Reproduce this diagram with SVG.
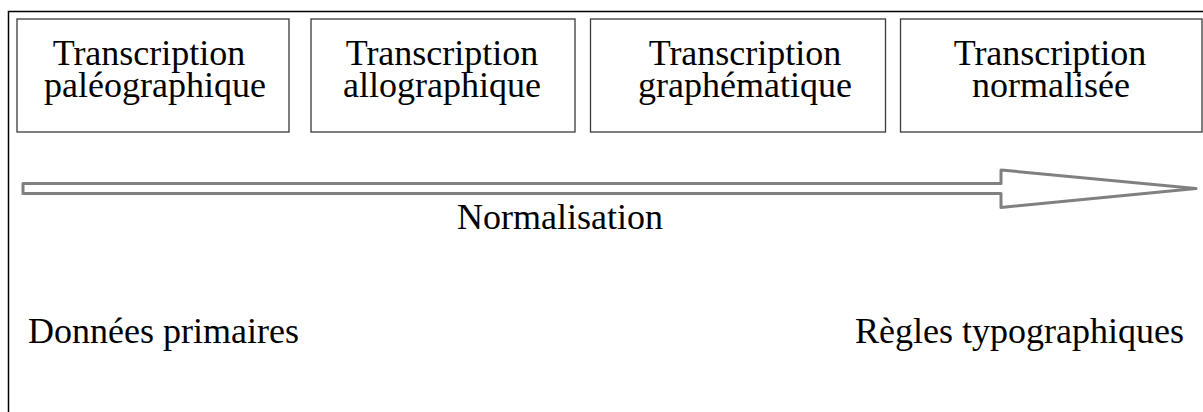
<svg xmlns="http://www.w3.org/2000/svg" width="1203" height="412" viewBox="0 0 1203 412">
<style>
.frame{fill:none;stroke:#000;stroke-width:1.5}
.box{fill:#fff;stroke:#3a3a3a;stroke-width:1.3}
.t{font-family:"Liberation Serif","Times New Roman",serif;font-size:36px;fill:#000}
.m{text-anchor:middle}
.arrow{fill:#fff;stroke:#808080;stroke-width:3;stroke-linejoin:round}
</style>
<rect width="1203" height="412" fill="#fff"/>
<path class="frame" d="M8.5,420 V11.5 H1210"/>
<g id="node-paleographique">
<rect class="box" x="17" y="19" width="272" height="113"/>
<text class="t m" x="149" y="65">Transcription</text>
<text class="t m" x="155" y="97">paléographique</text>
</g>
<g id="node-allographique">
<rect class="box" x="311" y="19" width="264" height="113"/>
<text class="t m" x="442" y="65">Transcription</text>
<text class="t m" x="442" y="97">allographique</text>
</g>
<g id="node-graphematique">
<rect class="box" x="590.5" y="19" width="295" height="113"/>
<text class="t m" x="745" y="65">Transcription</text>
<text class="t m" x="745" y="97">graphématique</text>
</g>
<g id="node-normalisee">
<rect class="box" x="900.5" y="19" width="301.5" height="113"/>
<text class="t m" x="1050" y="65">Transcription</text>
<text class="t m" x="1051" y="97">normalisée</text>
</g>
<g id="connectors">
<polygon class="arrow" points="23,183.5 1001,183.5 1001,170 1196,188.5 1001,207.5 1001,193.5 23,193.5"/>
<text class="t m" x="560" y="229">Normalisation</text>
</g>
<g id="node-donnees">
<text class="t" x="28" y="343">Données primaires</text>
</g>
<g id="node-regles">
<text class="t" x="855" y="343">Règles typographiques</text>
</g>
</svg>
